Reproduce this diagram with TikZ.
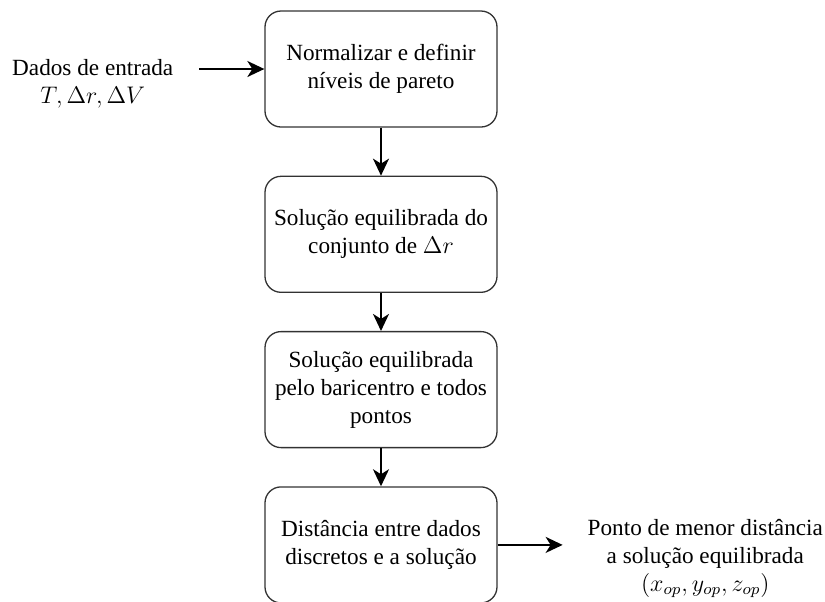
\documentclass[tikz,border=0pt]{standalone}
\usepackage{fontspec}
\setmainfont{Liberation Serif}
\usepackage{amsmath}
\definecolor{colborder}{RGB}{50,50,50}
\usetikzlibrary{
	arrows.meta,
	positioning
}
\tikzset{
	>={Stealth[length=8.5pt, width=8pt, inset=2.5pt]},
	flowarrow/.style={->, line width=1pt},
	stepnode/.style={draw=colborder, line width=0.65pt, rounded corners=8pt,
		minimum width=116pt, minimum height=58pt, align=center,
		font=\fontsize{11.6}{14}\selectfont},
	textnode/.style={align=center, font=\fontsize{11.6}{14}\selectfont}
}

\begin{document}
\begin{tikzpicture}
	\useasboundingbox (-190.5pt,34.5pt) rectangle (222pt,-266pt);

	\node[stepnode] (norm) {Normalizar e definir\\n\'iveis de pareto};
	\node[stepnode] (equil) [below=24pt of norm] {Solu\c{c}\~ao equilibrada do\\conjunto de $\Delta r$};
	\node[stepnode] (bari) [below=19pt of equil] {Solu\c{c}\~ao equilibrada\\pelo baricentro e todos\\pontos};
	\node[stepnode] (dist) [below=19pt of bari] {Dist\^ancia entre dados\\discretos e a solu\c{c}\~ao};

	\node[textnode] (input) [left=42pt of norm, yshift=-7.5pt] {Dados de entrada\\\fontsize{12.5}{14}\selectfont$T, \Delta r, \Delta V$};
	\node[textnode] (output) [right=41.5pt of dist, yshift=-6.75pt] {Ponto de menor dist\^ancia\\a solu\c{c}\~ao equilibrada\\$(x_{op}, y_{op}, z_{op})$};

	\draw[flowarrow, shorten <=9.5pt] (input.east |- norm.west) -- (norm.west);
	\draw[flowarrow] (norm) -- (equil);
	\draw[flowarrow] (equil) -- (bari);
	\draw[flowarrow] (bari) -- (dist);
	\draw[flowarrow, shorten >=9pt] (dist.east) -- (output.west |- dist.east);
\end{tikzpicture}
\end{document}
